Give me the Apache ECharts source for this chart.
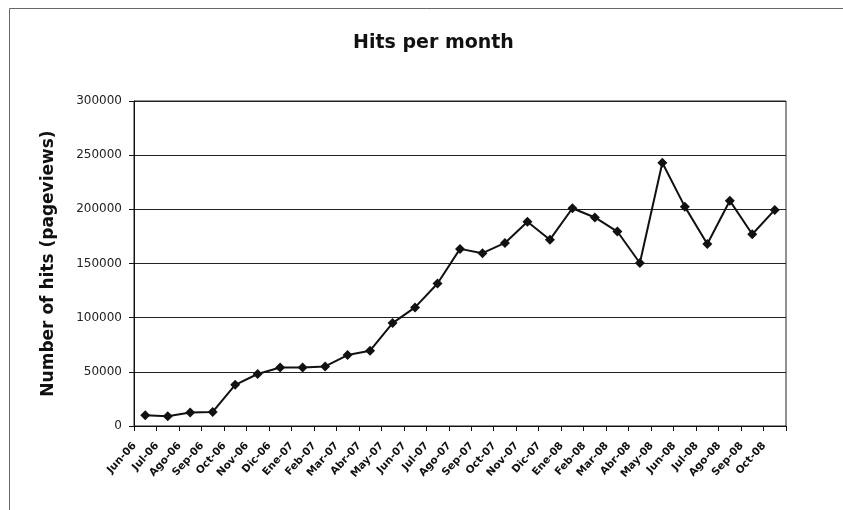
<!DOCTYPE html>
<html>
<head>
<meta charset="utf-8">
<script src="https://cdn.jsdelivr.net/npm/echarts@6/dist/echarts.min.js"></script>
<style>
  html, body { margin: 0; padding: 0; background: #fff; }
  #chart { width: 843px; height: 510px; }
</style>
</head>
<body>
<div id="chart"></div>
<script>
// Monthly page views, June 2006 to October 2008
const months = [
  'Jun-06', 'Jul-06', 'Ago-06', 'Sep-06', 'Oct-06', 'Nov-06', 'Dic-06',
  'Ene-07', 'Feb-07', 'Mar-07', 'Abr-07', 'May-07', 'Jun-07', 'Jul-07',
  'Ago-07', 'Sep-07', 'Oct-07', 'Nov-07', 'Dic-07',
  'Ene-08', 'Feb-08', 'Mar-08', 'Abr-08', 'May-08', 'Jun-08', 'Jul-08',
  'Ago-08', 'Sep-08', 'Oct-08'
];
const hits = [
  10000, 9000, 12500, 13000, 38000, 48000, 54000,
  54000, 55000, 65500, 69500, 95000, 109500, 131500,
  163500, 159500, 169000, 188500, 172000,
  201000, 192500, 179500, 150500, 243000, 202500, 168000,
  208000, 177000, 199500
];
const yTicks = [0, 50000, 100000, 150000, 200000, 250000, 300000];

const chart = echarts.init(document.getElementById('chart'), null, { renderer: 'canvas' });

chart.setOption({
  backgroundColor: '#fff',
  animation: false,
  title: {
    text: 'Hits per month',
    left: 348,
    top: 29,
    textStyle: { fontFamily: 'DejaVu Sans', fontSize: 19, fontWeight: 'bold', color: '#111' }
  },
  graphic: [{
    type: 'rect',
    shape: { x: 9.5, y: 8.5, width: 850, height: 520 },
    style: { fill: 'none', stroke: '#666', lineWidth: 1 },
    silent: true
  }],
  grid: { left: 134, right: 57, top: 101, bottom: 84, show: true, borderColor: '#222', borderWidth: 1 },
  xAxis: {
    type: 'category',
    data: months,
    boundaryGap: true,
    axisLine: { lineStyle: { color: '#111', width: 1 } },
    axisTick: { show: true, alignWithLabel: false, length: 5, lineStyle: { color: '#111' } },
    axisLabel: {
      interval: 0,
      rotate: 48,
      margin: 6,
      padding: [0, 16, 0, 0],
      fontFamily: 'DejaVu Sans',
      fontSize: 10.5,
      fontWeight: 'bold',
      color: '#111'
    }
  },
  yAxis: {
    type: 'value',
    min: yTicks[0],
    max: yTicks[yTicks.length - 1],
    interval: yTicks[1] - yTicks[0],
    name: 'Number of hits (pageviews)',
    nameLocation: 'middle',
    nameGap: 77,
    nameTextStyle: { fontFamily: 'DejaVu Sans', fontSize: 17, fontWeight: 'bold', color: '#111' },
    axisLine: { show: true, lineStyle: { color: '#111', width: 1 } },
    axisTick: { show: true, length: 5, lineStyle: { color: '#111' } },
    axisLabel: {
      margin: 12,
      fontFamily: 'DejaVu Sans',
      fontSize: 12,
      color: '#222',
      formatter: v => String(v)
    },
    splitLine: { show: true, lineStyle: { color: '#222', width: 1 } }
  },
  series: [{
    type: 'line',
    data: hits,
    symbol: 'diamond',
    symbolSize: 10,
    itemStyle: { color: '#111' },
    lineStyle: { color: '#111', width: 2 }
  }]
});
</script>
</body>
</html>
